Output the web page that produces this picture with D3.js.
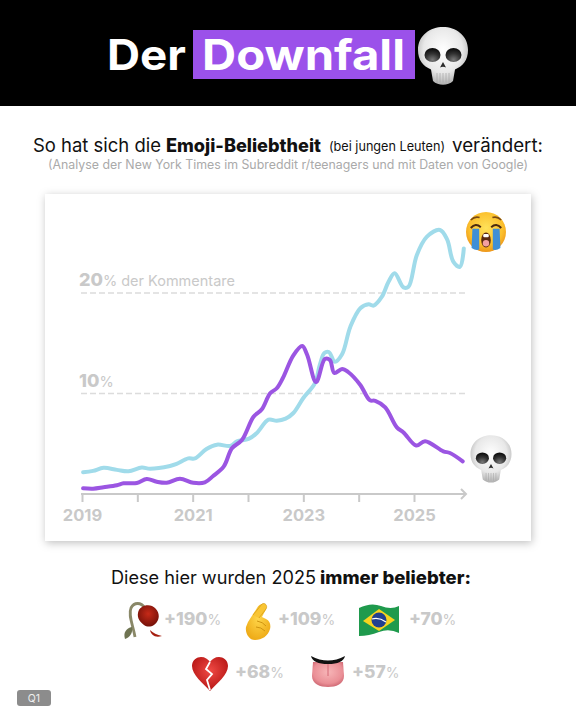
<!DOCTYPE html>
<html><head><meta charset="utf-8">
<style>html,body{margin:0;padding:0;background:#fff}svg{display:block}text{font-family:Inter,"Open Sans",sans-serif}</style>
<script src="https://cdn.jsdelivr.net/npm/d3@7"></script></head><body><svg id="c" width="576" height="720"></svg>
<script>
const cryYears=[2019.02,2019.20,2019.39,2019.63,2019.84,2020.08,2020.23,2020.59,2020.71,2020.92,2021.04,2021.25,2021.44,2021.68,2021.80,2022.01,2022.16,2022.37,2022.52,2022.68,2022.82,2023.0,2023.21,2023.30,2023.38,2023.46,2023.57,2023.70,2023.85,2024.03,2024.18,2024.27,2024.42,2024.54,2024.65,2024.81,2024.90,2025.05,2025.23,2025.47,2025.60,2025.71,2025.83,2025.90];
const cryValues=[2.16,2.3,2.6,2.4,2.26,2.63,2.52,2.79,2.99,3.54,3.54,4.48,4.91,4.78,5.23,5.48,6.07,7.39,7.29,7.5,8.06,9.55,11.04,12.9,14.03,14.13,13.16,13.9,16.65,18.48,18.87,18.75,19.63,21.12,21.96,20.56,20.62,23.76,25.58,26.27,25.3,23.12,22.6,24.43];
const skullYears=[2019.02,2019.20,2019.39,2019.63,2019.75,2019.99,2020.17,2020.35,2020.53,2020.77,2021.01,2021.22,2021.37,2021.56,2021.71,2021.89,2022.10,2022.25,2022.40,2022.52,2022.63,2022.82,2022.98,2023.07,2023.23,2023.39,2023.48,2023.56,2023.70,2023.81,2024.03,2024.20,2024.30,2024.48,2024.69,2024.81,2025.04,2025.20,2025.53,2025.65,2025.88];
const skullValues=[.57,.53,.67,.87,1.06,1.09,1.49,1.22,1.12,1.52,1.12,1.16,1.79,2.72,4.55,5.37,7.69,8.43,10.02,10.52,11.54,13.8,14.73,13.83,11.14,13.43,13.33,12.04,12.44,12.14,10.85,9.34,9.27,8.62,6.63,6.13,4.82,5.25,4.25,4.08,3.25];
const tickYears=[2019,2020,2021,2022,2023,2024,2025];
const labelYears=[2019,2021,2023,2025];
const gridValues=[10,20];
const riserLabels=["+190","+109","+70","+68","+57"];

const svg=d3.select("#c");
const defs=svg.append("defs");
function radial(id,stops,cx=.5,cy=.4,r=.65){const g=defs.append("radialGradient").attr("id",id).attr("cx",cx).attr("cy",cy).attr("r",r);stops.forEach(s=>g.append("stop").attr("offset",s[0]).attr("stop-color",s[1]));}
radial("gSkull",[[0,"#ffffff"],[.6,"#e8e8e8"],[1,"#a2a2a2"]]);
radial("gEye",[[0,"#7a7a7a"],[.55,"#333"],[1,"#0c0c0c"]],.5,.85,.8);
radial("gFace",[[0,"#ffe25a"],[.65,"#fbbf2c"],[1,"#e98a14"]]);
radial("gRose",[[0,"#c62a18"],[1,"#6e0f08"]]);
radial("gHand",[[0,"#ffd64a"],[1,"#eda814"]]);
radial("gHeart",[[0,"#f04a45"],[1,"#b0100f"]]);
radial("gTongue",[[0,"#f7b6b8"],[.7,"#ea8f96"],[1,"#c9606c"]]);
const sh=defs.append("filter").attr("id","sh").attr("x","-10%").attr("y","-10%").attr("width","120%").attr("height","120%");
sh.append("feDropShadow").attr("dx",1).attr("dy",2).attr("stdDeviation",4).attr("flood-color","#000").attr("flood-opacity",.25);

function skull(cx,cy,w){const g=svg.append("g").attr("transform",`translate(${cx},${cy}) scale(${w/100})`);
 g.append("path").attr("d","M-50,-12C-50,-42-25,-58 0,-58C25,-58 50,-42 50,-12C50,8 40,20 24,27L20,50C10,60-10,60-20,50L-24,27C-40,20-50,8-50,-12Z").attr("fill","url(#gSkull)");
 [-21,21].forEach(x=>g.append("ellipse").attr("cx",x).attr("cy",-2).attr("rx",16).attr("ry",14).attr("fill","url(#gEye)"));
 g.append("path").attr("d","M0,12L6,23Q0,20-6,23Z").attr("fill","#2a2a2a");
 [-12,-6,0,6,12].forEach(x=>g.append("line").attr("x1",x).attr("x2",x).attr("y1",34).attr("y2",53).attr("stroke","#a8a8a8").attr("stroke-width",1.5));
}
function cry(cx,cy,r){const g=svg.append("g").attr("transform",`translate(${cx},${cy}) scale(${r/50})`);
 g.append("circle").attr("r",50).attr("fill","url(#gFace)");
 [-1,1].forEach(s=>{
  g.append("path").attr("d",`M${s*17},-8L${s*34},-8L${s*36},40Q${s*26},47 ${s*17},44Z`).attr("fill","#3f8fd6");
  g.append("path").attr("d",`M${s*13},-12Q${s*26},-24 ${s*38},-10`).attr("fill","none").attr("stroke","#4b2a10").attr("stroke-width",5);
  g.append("path").attr("d",`M${s*16},-36Q${s*28},-40 ${s*38},-30`).attr("fill","none").attr("stroke","#7a4a14").attr("stroke-width",4);
 });
 g.append("ellipse").attr("cy",20).attr("rx",12).attr("ry",19).attr("fill","#5b2a10");
 g.append("ellipse").attr("cy",28).attr("rx",8).attr("ry",8).attr("fill","#f3a0a0");
 g.append("rect").attr("x",-7).attr("y",5).attr("width",14).attr("height",8).attr("rx",3).attr("fill","#fff");
}
function rose(cx,cy){const g=svg.append("g").attr("transform",`translate(${cx},${cy})`);
 g.append("path").attr("d","M-6,17C-8,5-13,-5-10,-12C-7,-18 0,-18 4,-12").attr("fill","none").attr("stroke","#8a8868").attr("stroke-width",2.8);
 g.append("path").attr("d","M-9,7C-15,8-18,13-16,19C-11,17-8,13-9,7Z").attr("fill","#6f7452");
 g.append("path").attr("d","M-3,-7C-2,-14 6,-16 11,-14C17,-11 19,-5 17,0C14,7 7,8 3,5C-1,2-4,-2-3,-7Z").attr("fill","url(#gRose)");
 g.append("path").attr("d","M9,10C10,15 14,18 21,16C16,15 12,13 9,10Z").attr("fill","#a51f10");
}
function fingers(cx,cy){const g=svg.append("g").attr("transform",`translate(${cx},${cy})`);
 g.append("path").attr("d","M-10,1L-1,-13C1,-17 5,-18 7,-16C9,-14 8,-11 6,-8L4,-4L8,-2C12,0 13,4 12,8C10,15 4,19-3,19C-9,19-13,12-12,6Z").attr("fill","url(#gHand)");
 g.append("path").attr("d","M-5,-6L4,-17C7,-19 10,-15 8,-12L1,-3").attr("fill","#f9c534").attr("stroke","#d49a12").attr("stroke-width",.7);
 g.append("path").attr("d","M-1,0Q5,1 8,5M-2,6Q3,6 7,10").attr("fill","none").attr("stroke","#cf9410").attr("stroke-width",1);
}
function flag(cx,cy){const g=svg.append("g").attr("transform",`translate(${cx},${cy})`);
 g.append("path").attr("d","M-20,-12Q-8,-18 2,-14T20,-14L20,13Q10,8 0,12T-20,16Z").attr("fill","#1f9a4d");
 g.append("path").attr("d","M-16,1L0,-11L16,0L0,11Z").attr("fill","#f7d31f");
 g.append("circle").attr("r",7.5).attr("fill","#22408f");
 g.append("path").attr("d","M-7,-1Q0,-3 7,2").attr("fill","none").attr("stroke","#fff").attr("stroke-width",1.2);
}
function brokenHeart(cx,cy){const g=svg.append("g").attr("transform",`translate(${cx},${cy})`);
 g.append("path").attr("d","M0,18C-7,10-18,2-18,-7C-18,-13-13,-16-9,-16C-5,-16-2,-14 0,-11C2,-14 5,-16 9,-16C13,-16 18,-13 18,-7C18,2 7,10 0,18Z").attr("fill","url(#gHeart)");
 g.append("path").attr("d","M0,-11L-4,-4L2,1L-3,7L0,17").attr("fill","none").attr("stroke","#fff").attr("stroke-width",1.8);
}
function tongue(cx,cy){const g=svg.append("g").attr("transform",`translate(${cx},${cy})`);
 g.append("path").attr("d","M-15,-10L15,-10L16,4C16,12 8,15 0,15C-8,15-16,12-16,4Z").attr("fill","url(#gTongue)");
 g.append("path").attr("d","M0,-8L0,4").attr("stroke","#d9737f").attr("stroke-width",1.2);
 g.append("path").attr("d","M-17,-16Q0,-7 17,-16Q15,-8 0,-8Q-15,-8-17,-16Z").attr("fill","#111");
}
function txt(x,y,size,weight,fill,str,len){const t=svg.append("text").attr("x",x).attr("y",y).attr("font-size",size).attr("font-weight",weight).attr("fill",fill).text(str);if(len)t.attr("textLength",len).attr("lengthAdjust","spacingAndGlyphs");return t;}

// header
svg.append("rect").attr("width",576).attr("height",106).attr("fill","#000");
svg.append("rect").attr("x",193).attr("y",30).attr("width",222).attr("height",49).attr("fill","#9b51ea");
txt(107,70,42,700,"#fff","Der",79);
txt(202,70,42,700,"#fff","Downfall",203);
skull(443,56,50);

// sub heads
txt(33,152,18.5,400,"#111","So hat sich die",128);
txt(166,152,18.5,800,"#111","Emoji-Beliebtheit",155);
txt(329,151,13,400,"#111","(bei jungen Leuten)",116);
txt(452,152,18.5,400,"#111","verändert:",91);
txt(48,169,12.5,400,"#aaa","(Analyse der New York Times im Subreddit r/teenagers und mit Daten von Google)",480);

// card
svg.append("rect").attr("x",45).attr("y",194).attr("width",486).attr("height",347).attr("fill","#fff").attr("filter","url(#sh)");

const x=d3.scaleLinear().domain([2019,2025]).range([82,414]);
const y=d3.scaleLinear().domain([0,20]).range([494,293]);
const gray="#c9c9c9";
const gridG=svg.append("g");
gridValues.forEach(v=>gridG.append("line").attr("x1",81).attr("x2",467).attr("y1",y(v)).attr("y2",y(v)).attr("stroke","#dcdcdc").attr("stroke-width",1.5).attr("stroke-dasharray","6 3"));
gridValues.forEach(v=>{const t=svg.append("text").attr("x",79).attr("y",y(v)-7).attr("fill",gray);
 t.append("tspan").attr("font-size",18).attr("font-weight",800).text(v);
 t.append("tspan").attr("font-size",14.5).attr("font-weight",400).text("%");
 if(v===20)t.append("tspan").attr("font-size",14.5).attr("font-weight",400).attr("dx",4).text("der Kommentare");
});

// axis
const ax=svg.append("g").attr("transform","translate(0,494)").call(d3.axisBottom(x).tickValues(tickYears).tickSize(8).tickPadding(7).tickFormat(d=>labelYears.includes(d)?String(d):""));
ax.select(".domain").remove();
ax.selectAll("line").attr("stroke",gray).attr("stroke-width",2);
ax.selectAll("text").attr("fill",gray).attr("font-size",16.5).attr("font-weight",700).style("font-family","Inter,sans-serif");
svg.append("path").attr("d",`M${x(2019)-1},494H466M461,489L466,494L461,499`).attr("fill","none").attr("stroke",gray).attr("stroke-width",2);

// lines
const line=d3.line().x(d=>x(d[0])).y(d=>y(d[1])).curve(d3.curveCatmullRom.alpha(.5));
svg.append("path").datum(d3.zip(cryYears,cryValues)).attr("d",line).attr("fill","none").attr("stroke","#a0dbea").attr("stroke-width",4).attr("stroke-linecap","round");
svg.append("path").datum(d3.zip(skullYears,skullValues)).attr("d",line).attr("fill","none").attr("stroke","#9b55e2").attr("stroke-width",4).attr("stroke-linecap","round");
cry(486,232,20);
skull(491,459,41);

// bottom
txt(111,584,18,400,"#111","Diese hier wurden 2025",205);
txt(320,584,18,800,"#111","immer beliebter:",151);
const riserX=[164,278,409,235,352], riserY=[625,625,625,678,678];
riserLabels.forEach((l,i)=>{const t=svg.append("text").attr("x",riserX[i]).attr("y",riserY[i]).attr("fill",gray);
 t.append("tspan").attr("font-size",17.5).attr("font-weight",800).text(l);
 t.append("tspan").attr("font-size",14).attr("font-weight",400).text("%");});
rose(141,620);fingers(258,621);flag(379,620);brokenHeart(210,673);tongue(328,672);

svg.append("rect").attr("x",17).attr("y",690).attr("width",34).attr("height",16).attr("rx",3).attr("fill","#8c8c8c");
svg.append("text").attr("x",34).attr("y",702).attr("text-anchor","middle").attr("font-size",10.5).attr("fill","#eee").text("Q1");
</script></body></html>
